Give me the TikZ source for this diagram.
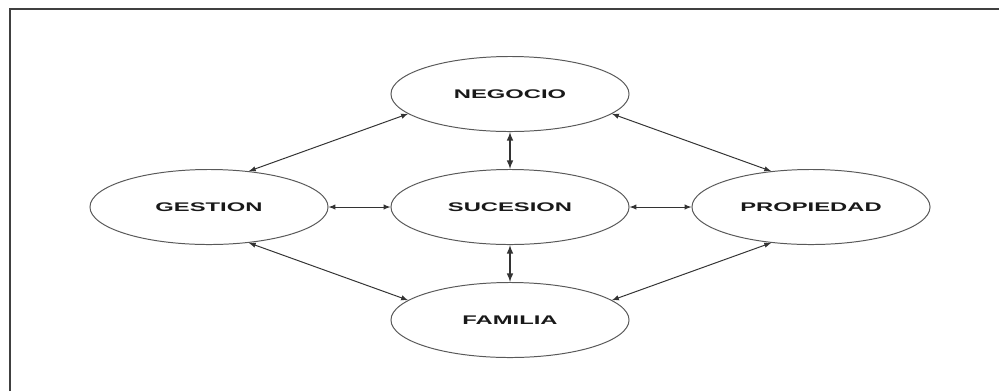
\documentclass[tikz,border=0pt]{standalone}
\usepackage{fontspec}
\setmainfont{Liberation Sans}
\usetikzlibrary{arrows,shapes.geometric}

\tikzset{
  bloque/.style={ellipse, draw=black!65, line width=0.7pt, fill=white,
    minimum width=5.95cm, minimum height=1.875cm, inner sep=0pt,
    font=\fontsize{8.9}{10}\selectfont\bfseries, text=black!90},
  flecha/.style={latex-latex, line width=0.7pt, draw=black!80},
}
\newcommand{\ancho}[1]{\scalebox{1.9}[1]{#1}}

\begin{document}
\begin{tikzpicture}[x=0.025cm,y=-0.025cm]
            \useasboundingbox (0,0) rectangle (999,391);
            \draw[line width=1.2pt, black!75] (10,391) -- (10,9) -- (999,9);

            \node[bloque] (negocio) at (510,94) {\ancho{NEGOCIO}};
            \node[bloque] (gestion) at (209,207) {\ancho{GESTION}};
            \node[bloque] (sucesion) at (510,207) {\ancho{SUCESION}};
            \node[bloque] (propiedad) at (811,207) {\ancho{PROPIEDAD}};
            \node[bloque] (familia) at (510,320) {\ancho{FAMILIA}};

            \draw[flecha, line width=1.1pt] (negocio.south) -- (sucesion.north);
            \draw[flecha, line width=1.1pt] (sucesion.south) -- (familia.north);
            \draw[flecha] (gestion.east) -- (sucesion.west);
            \draw[flecha] (sucesion.east) -- (propiedad.west);
            \draw[flecha] (gestion.42) -- (negocio.191);
            \draw[flecha] (negocio.349) -- (propiedad.138);
            \draw[flecha] (gestion.318) -- (familia.169);
            \draw[flecha] (propiedad.222) -- (familia.11);
\end{tikzpicture}
\end{document}
